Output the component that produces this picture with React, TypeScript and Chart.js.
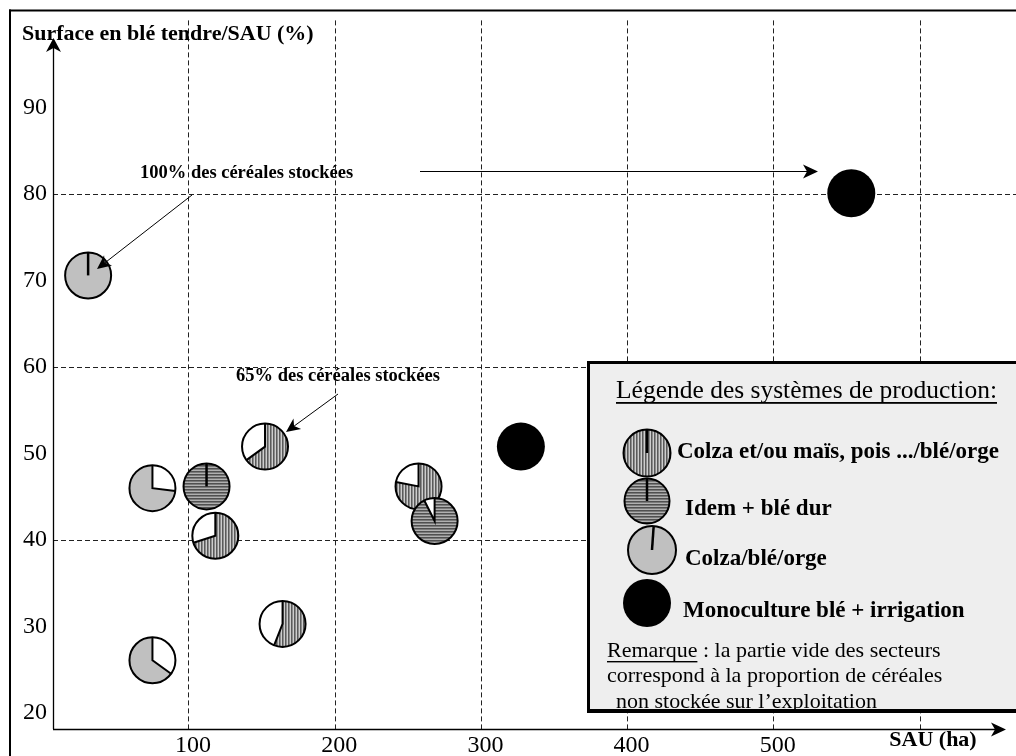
import React, { useEffect, useRef } from 'react';
import { Chart, registerables } from 'chart.js';

Chart.register(...registerables);

// ---------------- data ----------------
const X_TICKS = [100, 200, 300, 400, 500, 600];
const Y_TICKS = [20, 30, 40, 50, 60, 70, 80, 90];
const Y_GRID_VALUES = [40, 60, 80];
const X_AXIS_TITLE = 'SAU (ha)';
const Y_AXIS_TITLE = 'Surface en blé tendre/SAU (%)';

const SYSTEM_NAMES = [
  'Colza et/ou maïs, pois .../blé/orge',
  'Idem + blé dur',
  'Colza/blé/orge',
  'Monoculture blé + irrigation',
];

// Colza et/ou maïs, pois .../blé/orge  (SAU ha, % blé tendre, % céréales stockées)
const COLZA_MAIS_SAU = [152, 118, 257, 164];
const COLZA_MAIS_BT = [50.8, 40.5, 46.2, 30.3];
const COLZA_MAIS_STOCK = [65, 70, 78, 56];

// Idem + blé dur
const BLE_DUR_SAU = [112, 268];
const BLE_DUR_BT = [46.2, 42.2];
const BLE_DUR_STOCK = [100, 92.6];

// Colza/blé/orge
const COLZA_SAU = [31, 75, 75];
const COLZA_BT = [70.6, 46.0, 26.1];
const COLZA_STOCK = [100, 73, 65];

// Monoculture blé + irrigation
const MONO_SAU = [327, 553];
const MONO_BT = [50.8, 80.1];
const MONO_STOCK = [100, 100];

const LEGEND_TITLE = 'Légende des systèmes de production:';
const REMARK_LABEL = 'Remarque';
const REMARK_LINES = [
  ' : la partie vide des secteurs',
  'correspond à la proportion de céréales',
  '  non stockée sur l\u2019exploitation',
];
const ANNOT_100 = '100% des céréales stockées';
const ANNOT_65 = '65% des céréales stockées';

// ---------------- styles ----------------
const SERIF = "'Liberation Serif', 'Times New Roman', Times, serif";
const PIE_R = 23;
const EMPTY_FIRST = [false, false, true, false];

let patternCache: Record<string, CanvasPattern | null> = {};

function makePattern(ctx: CanvasRenderingContext2D, kind: string): CanvasPattern | string {
  if (patternCache[kind]) return patternCache[kind] as CanvasPattern;
  const c = document.createElement('canvas');
  c.width = 3;
  c.height = 3;
  const p = c.getContext('2d')!;
  if (kind === 'v') {
    p.fillStyle = '#cdcdcd';
    p.fillRect(0, 0, 3, 3);
    p.fillStyle = '#8c8c8c';
    p.fillRect(1, 0, 1, 3);
    p.fillStyle = '#5a5a5a';
    p.fillRect(0, 0, 1, 3);
  } else {
    p.fillStyle = '#b0b0b0';
    p.fillRect(0, 0, 3, 3);
    p.fillStyle = '#7a7a7a';
    p.fillRect(0, 1, 3, 1);
    p.fillStyle = '#505050';
    p.fillRect(0, 0, 3, 1);
  }
  const pat = ctx.createPattern(c, 'repeat');
  patternCache[kind] = pat;
  return pat || '#999';
}

function fillFor(ctx: CanvasRenderingContext2D, sys: number): CanvasPattern | string {
  if (sys === 0) return makePattern(ctx, 'v');
  if (sys === 1) return makePattern(ctx, 'h');
  if (sys === 2) return '#c0c0c0';
  return '#000';
}

function drawPie(
  ctx: CanvasRenderingContext2D,
  x: number,
  y: number,
  r: number,
  sys: number,
  stockPct: number,
  lineAngleDeg = 0
) {
  const start = -Math.PI / 2;
  const frac = stockPct / 100;
  ctx.save();
  ctx.beginPath();
  ctx.arc(x, y, r, 0, Math.PI * 2);
  ctx.fillStyle = fillFor(ctx, sys);
  ctx.fill();
  ctx.strokeStyle = '#000';
  ctx.lineWidth = 2;
  if (sys !== 3) {
    if (frac < 0.999) {
      let a0: number, a1: number;
      if (EMPTY_FIRST[sys]) {
        a0 = start;
        a1 = start + (1 - frac) * Math.PI * 2;
      } else {
        a0 = start + frac * Math.PI * 2;
        a1 = start + Math.PI * 2;
      }
      ctx.beginPath();
      ctx.moveTo(x, y);
      ctx.arc(x, y, r, a0, a1);
      ctx.closePath();
      ctx.fillStyle = '#fff';
      ctx.fill();
      ctx.beginPath();
      ctx.moveTo(x + Math.cos(a0) * r, y + Math.sin(a0) * r);
      ctx.lineTo(x, y);
      ctx.lineTo(x + Math.cos(a1) * r, y + Math.sin(a1) * r);
      ctx.lineWidth = 2;
      ctx.stroke();
    } else {
      const a = start + (lineAngleDeg * Math.PI) / 180;
      ctx.beginPath();
      ctx.moveTo(x, y);
      ctx.lineTo(x + Math.cos(a) * r, y + Math.sin(a) * r);
      ctx.lineWidth = 2.5;
      ctx.stroke();
    }
    ctx.beginPath();
    ctx.arc(x, y, r, 0, Math.PI * 2);
    ctx.lineWidth = 2;
    ctx.stroke();
  }
  ctx.restore();
}

function arrowHead(ctx: CanvasRenderingContext2D, tx: number, ty: number, angle: number, len: number, half: number, notch: number) {
  ctx.save();
  ctx.translate(tx, ty);
  ctx.rotate(angle);
  ctx.beginPath();
  ctx.moveTo(0, 0);
  ctx.lineTo(-len, -half);
  ctx.lineTo(-len + notch, 0);
  ctx.lineTo(-len, half);
  ctx.closePath();
  ctx.fillStyle = '#000';
  ctx.fill();
  ctx.restore();
}

function arrow(ctx: CanvasRenderingContext2D, x1: number, y1: number, x2: number, y2: number, len: number, half: number, notch: number, lw: number) {
  const a = Math.atan2(y2 - y1, x2 - x1);
  ctx.save();
  ctx.strokeStyle = '#000';
  ctx.lineWidth = lw;
  ctx.beginPath();
  ctx.moveTo(x1, y1);
  ctx.lineTo(x2 - Math.cos(a) * (len - notch), y2 - Math.sin(a) * (len - notch));
  ctx.stroke();
  ctx.restore();
  arrowHead(ctx, x2, y2, a, len, half, notch);
}

function txt(ctx: CanvasRenderingContext2D, s: string, x: number, y: number, size: number, bold: boolean, align: CanvasTextAlign = 'left') {
  ctx.font = `${bold ? 'bold ' : ''}${size}px ${SERIF}`;
  ctx.textAlign = align;
  ctx.textBaseline = 'alphabetic';
  ctx.fillStyle = '#000';
  ctx.fillText(s, x, y);
  return ctx.measureText(s).width;
}

const piePlugin = {
  id: 'piePlugin',
  afterDatasetsDraw(chart: any) {
    const ctx: CanvasRenderingContext2D = chart.ctx;
    chart.data.datasets.forEach((ds: any, di: number) => {
      const meta = chart.getDatasetMeta(di);
      meta.data.forEach((pt: any, i: number) => {
        drawPie(ctx, pt.x, pt.y, di === 3 ? 24 : PIE_R, di, ds.stock[i]);
      });
    });
  },
};

const decoPlugin = {
  id: 'decoPlugin',
  afterDraw(chart: any) {
    const ctx: CanvasRenderingContext2D = chart.ctx;
    const area = chart.chartArea;
    ctx.save();
    // outer frame (left + top)
    ctx.fillStyle = '#000';
    ctx.fillRect(9, 9.5, 1007, 2);
    ctx.fillRect(9, 9.5, 2, 747);

    // axes
    const ox = area.left;
    const oy = area.bottom;
    arrow(ctx, ox + 0.5, oy, ox + 0.5, 38, 14, 7.5, 4, 1.3);
    arrow(ctx, ox, oy + 0.5, 1006, oy + 0.5, 15, 7, 4, 1.3);

    // axis titles
    txt(ctx, Y_AXIS_TITLE, 22, 40, 22, true);
    txt(ctx, X_AXIS_TITLE, 933, 746, 22, true, 'center');

    // annotations
    txt(ctx, ANNOT_100, 140, 178, 18.5, true);
    arrow(ctx, 192, 195, 97, 269, 14, 6.5, 4, 1);
    arrow(ctx, 420, 171.5, 818, 171.5, 15, 7, 4, 1.2);
    txt(ctx, ANNOT_65, 236, 381, 18.5, true);
    arrow(ctx, 338, 394, 286, 432, 14, 6.5, 4, 1);

    // legend box
    const lx = 588;
    const ly = 362;
    ctx.fillStyle = '#eeeeee';
    ctx.fillRect(lx, ly, 440, 350);
    ctx.strokeStyle = '#000';
    ctx.lineWidth = 3;
    ctx.strokeRect(lx + 0.5, ly + 0.5, 440, 349);
    ctx.fillStyle = '#000';
    ctx.fillRect(lx - 1, ly + 347, 440, 4);

    const tw = txt(ctx, LEGEND_TITLE, 616, 398, 25.5, false);
    ctx.fillRect(616, 402, tw, 1.8);

    drawPie(ctx, 647, 453, 23.5, 0, 100);
    drawPie(ctx, 647, 501, 22.5, 1, 100);
    drawPie(ctx, 652, 550, 24, 2, 100, 4);
    drawPie(ctx, 647, 603, 24, 3, 100);
    txt(ctx, SYSTEM_NAMES[0], 677, 458, 23, true);
    txt(ctx, SYSTEM_NAMES[1], 685, 515, 23, true);
    txt(ctx, SYSTEM_NAMES[2], 685, 565, 23, true);
    txt(ctx, SYSTEM_NAMES[3], 683, 617, 23, true);

    const rw = txt(ctx, REMARK_LABEL, 607, 657, 22, false);
    ctx.fillRect(607, 661, rw, 1.4);
    txt(ctx, REMARK_LINES[0], 607 + rw, 657, 22, false);
    txt(ctx, REMARK_LINES[1], 607, 682, 22, false);
    txt(ctx, REMARK_LINES[2], 605, 708, 22, false);
    ctx.restore();
  },
};

export default function App() {
  const ref = useRef<HTMLCanvasElement | null>(null);
  useEffect(() => {
    if (!ref.current) return;
    patternCache = {};
    const mk = (xs: number[], ys: number[]) => xs.map((x, i) => ({ x, y: ys[i] }));
    const chart = new Chart(ref.current, {
      type: 'scatter',
      data: {
        datasets: [
          { label: SYSTEM_NAMES[0], data: mk(COLZA_MAIS_SAU, COLZA_MAIS_BT), stock: COLZA_MAIS_STOCK, pointRadius: 0 } as any,
          { label: SYSTEM_NAMES[1], data: mk(BLE_DUR_SAU, BLE_DUR_BT), stock: BLE_DUR_STOCK, pointRadius: 0 } as any,
          { label: SYSTEM_NAMES[2], data: mk(COLZA_SAU, COLZA_BT), stock: COLZA_STOCK, pointRadius: 0 } as any,
          { label: SYSTEM_NAMES[3], data: mk(MONO_SAU, MONO_BT), stock: MONO_STOCK, pointRadius: 0 } as any,
        ],
      },
      options: {
        responsive: false,
        animation: false,
        events: [],
        layout: { padding: { left: 0, top: 11, right: 0, bottom: 0 } },
        plugins: { legend: { display: false }, tooltip: { enabled: false }, title: { display: false } },
        scales: {
          x: {
            type: 'linear',
            min: 6.98,
            max: 665.66,
            afterBuildTicks: (s: any) => {
              s.ticks = X_TICKS.map((v) => ({ value: v }));
            },
            afterFit: (s: any) => {
              s.height = 27;
            },
            ticks: {
              color: '#000',
              font: { family: SERIF, size: 24 },
              padding: 2,
              labelOffset: 4,
              maxRotation: 0,
              autoSkip: false,
              callback: (v: any) => (v === 600 ? '' : String(v)),
            },
            grid: { color: '#222', lineWidth: 1, drawTicks: false },
            border: { display: false, dash: [5, 3] },
          },
          y: {
            type: 'linear',
            min: 18.145,
            max: 100.09,
            afterBuildTicks: (s: any) => {
              s.ticks = Y_TICKS.map((v) => ({ value: v }));
            },
            afterFit: (s: any) => {
              s.width = 53;
            },
            ticks: {
              color: '#000',
              font: { family: SERIF, size: 24 },
              padding: 6,
              autoSkip: false,
              callback: (v: any) => String(v),
            },
            grid: {
              color: (c: any) => (c.tick && Y_GRID_VALUES.includes(c.tick.value) ? '#222' : 'rgba(0,0,0,0)'),
              lineWidth: 1,
              drawTicks: false,
            },
            border: { display: false, dash: [5, 3] },
          },
        },
      } as any,
      plugins: [piePlugin, decoPlugin],
    });
    return () => chart.destroy();
  }, []);
  return (
    <div style={{ position: 'absolute', left: 0, top: 0, width: 1016, height: 756, background: '#fff' }}>
      <canvas ref={ref} width={1016} height={756} style={{ display: 'block', width: 1016, height: 756 }} />
    </div>
  );
}
